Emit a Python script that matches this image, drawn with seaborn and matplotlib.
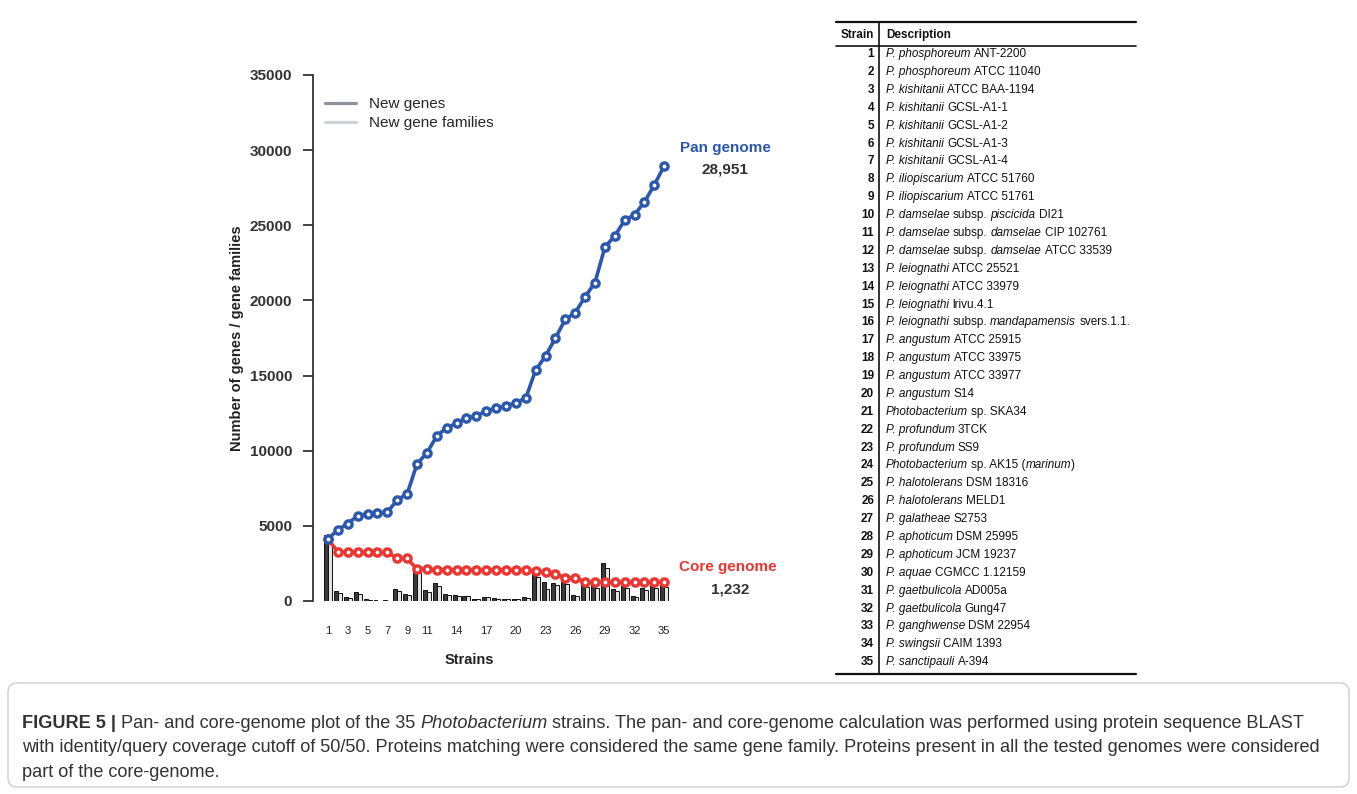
import numpy as np
import pandas as pd
import matplotlib
matplotlib.use("Agg")
import matplotlib.pyplot as plt
import seaborn as sns
from matplotlib.lines import Line2D
from matplotlib.patches import FancyBboxPatch
from matplotlib.transforms import IdentityTransform

# ---------------- data ----------------
strains = list(range(1, 36))
pan_genome = [4120, 4750, 5150, 5680, 5800, 5850, 5900, 6730, 7120, 9120,
              9850, 10980, 11530, 11820, 12180, 12330, 12640, 12840, 12970, 13200,
              13490, 15370, 16300, 17500, 18740, 19180, 20250, 21180, 23540, 24290,
              25330, 25700, 26550, 27680, 28951]
core_genome = [4120, 3260, 3250, 3250, 3240, 3240, 3230, 2840, 2830, 2120,
               2100, 2090, 2080, 2080, 2070, 2070, 2060, 2060, 2060, 2050,
               2050, 1990, 1900, 1800, 1540, 1550, 1260, 1250, 1250, 1245,
               1240, 1240, 1235, 1235, 1232]
new_genes = [4390, 690, 290, 580, 110, 40, 40, 780, 470, 2070,
             730, 1180, 470, 400, 360, 130, 290, 180, 140, 150,
             250, 1850, 1240, 1220, 1260, 400, 1070, 1070, 2510, 780,
             1020, 350, 840, 1000, 1070]
new_families = [4120, 560, 230, 470, 90, 30, 30, 650, 390, 1850,
                620, 1000, 390, 330, 300, 110, 240, 150, 110, 120,
                200, 1580, 820, 1050, 1100, 330, 900, 880, 2200, 640,
                840, 260, 710, 850, 930]
xtick_labels = [1, 3, 5, 7, 9, 11, 14, 17, 20, 23, 26, 29, 32, 35]
ytick_values = [0, 5000, 10000, 15000, 20000, 25000, 30000, 35000]
legend_labels = ["New genes", "New gene families"]
table_descriptions = [
    "*P. phosphoreum* ANT-2200",
    "*P. phosphoreum* ATCC 11040",
    "*P. kishitanii* ATCC BAA-1194",
    "*P. kishitanii* GCSL-A1-1",
    "*P. kishitanii* GCSL-A1-2",
    "*P. kishitanii* GCSL-A1-3",
    "*P. kishitanii* GCSL-A1-4",
    "*P. iliopiscarium* ATCC 51760",
    "*P. iliopiscarium* ATCC 51761",
    "*P. damselae* subsp. *piscicida* DI21",
    "*P. damselae* subsp. *damselae* CIP 102761",
    "*P. damselae* subsp. *damselae* ATCC 33539",
    "*P. leiognathi* ATCC 25521",
    "*P. leiognathi* ATCC 33979",
    "*P. leiognathi* lrivu.4.1",
    "*P. leiognathi* subsp. *mandapamensis* svers.1.1.",
    "*P. angustum* ATCC 25915",
    "*P. angustum* ATCC 33975",
    "*P. angustum* ATCC 33977",
    "*P. angustum* S14",
    "*Photobacterium* sp. SKA34",
    "*P. profundum* 3TCK",
    "*P. profundum* SS9",
    "*Photobacterium* sp. AK15 (*marinum*)",
    "*P. halotolerans* DSM 18316",
    "*P. halotolerans* MELD1",
    "*P. galatheae* S2753",
    "*P. aphoticum* DSM 25995",
    "*P. aphoticum* JCM 19237",
    "*P. aquae* CGMCC 1.12159",
    "*P. gaetbulicola* AD005a",
    "*P. gaetbulicola* Gung47",
    "*P. ganghwense* DSM 22954",
    "*P. swingsii* CAIM 1393",
    "*P. sanctipauli* A-394",
]
caption_lines = [
    "^FIGURE 5 |^ Pan- and core-genome plot of the 35 *Photobacterium* strains. The pan- and core-genome calculation was performed using protein sequence BLAST",
    "with identity/query coverage cutoff of 50/50. Proteins matching were considered the same gene family. Proteins present in all the tested genomes were considered",
    "part of the core-genome.",
]

BLUE = "#2b57ad"
RED = "#ec3530"
DARK = "#333333"

# ---------------- figure ----------------
W, H = 1357, 794
sns.set_style("ticks")
plt.rcParams["font.family"] = ["Liberation Sans", "DejaVu Sans"]

fig = plt.figure(figsize=(W / 100, H / 100), dpi=100)
T = IdentityTransform()

ax = fig.add_axes([313 / W, 1 - 601 / H, (680 - 313) / W, (601 - 75) / H])

bars = pd.DataFrame({
    "Strain": strains + strains,
    "Count": new_genes + new_families,
    "Type": [legend_labels[0]] * len(strains) + [legend_labels[1]] * len(strains),
})
sns.barplot(data=bars, x="Strain", y="Count", hue="Type", hue_order=legend_labels,
            palette={legend_labels[0]: "#3a3a3a", legend_labels[1]: "#e4e4e4"},
            native_scale=True, width=0.8, dodge=True, errorbar=None,
            edgecolor="#111111", linewidth=0.7, legend=False, ax=ax, zorder=1)

sns.lineplot(x=strains, y=core_genome, color=RED, marker="o", markersize=5.2,
             markerfacecolor="white", markeredgecolor=RED, markeredgewidth=2.4,
             linewidth=2.6, ax=ax, zorder=4)
sns.lineplot(x=strains, y=pan_genome, color=BLUE, marker="o", markersize=5.2,
             markerfacecolor="white", markeredgecolor=BLUE, markeredgewidth=2.4,
             linewidth=2.6, ax=ax, zorder=5)

ax.set_xlim(-0.52, 36.6)
ax.set_ylim(0, 35000)
ax.set_xticks(xtick_labels)
ax.set_xticklabels([str(v) for v in xtick_labels], fontsize=8, color="#222222")
ax.set_yticks(ytick_values)
ax.set_yticklabels([str(v) for v in ytick_values], fontsize=11, fontweight="bold", color=DARK)
ax.tick_params(axis="x", length=0, pad=18)
ax.tick_params(axis="y", length=7, width=1.3, color=DARK, pad=8, direction="out")
for s in ["top", "right", "bottom"]:
    ax.spines[s].set_visible(False)
ax.spines["left"].set_linewidth(1.3)
ax.spines["left"].set_color(DARK)
ax.set_facecolor("none")

ax.set_xlabel("Strains", fontsize=10.5, fontweight="bold", color="#222222")
ax.set_ylabel("Number of genes / gene families", fontsize=10.5, fontweight="bold", color="#222222")
ax.xaxis.set_label_coords((469 - 313) / 367, (601 - 653) / 526)
ax.yaxis.set_label_coords((244 - 313) / 367, 0.5)

handles = [Line2D([0], [0], color="#8e939b", lw=2.3),
           Line2D([0], [0], color="#cfd2d6", lw=2.3)]
fig.legend(handles, legend_labels, loc="upper left",
           bbox_to_anchor=(325 / W, 1 - 97 / H), frameon=False, fontsize=11,
           handlelength=2.0, handletextpad=0.9, labelspacing=0.32,
           borderpad=0, borderaxespad=0)

fig.text(725, H - 148, "Pan genome", transform=T, ha="center", va="center",
         fontsize=11, fontweight="bold", color=BLUE)
fig.text(725, H - 169, "28,951", transform=T, ha="center", va="center",
         fontsize=11, fontweight="bold", color=DARK)
fig.text(728, H - 567, "Core genome", transform=T, ha="center", va="center",
         fontsize=11, fontweight="bold", color=RED)
fig.text(730, H - 590, "1,232", transform=T, ha="center", va="center",
         fontsize=11, fontweight="bold", color=DARK)

# ---------------- rich text helper ----------------
renderer = fig.canvas.get_renderer()


def _parse(markup):
    segs, cur, it, bd = [], "", False, False
    for ch in markup:
        if ch in "*^":
            if cur:
                segs.append((cur, it, bd))
            cur = ""
            if ch == "*":
                it = not it
            else:
                bd = not bd
        else:
            cur += ch
    if cur:
        segs.append((cur, it, bd))
    return segs


def _width(s, **kw):
    t = fig.text(0, 0, s, transform=T, **kw)
    w = t.get_window_extent(renderer).width
    t.remove()
    return w


def _advance(s, **kw):
    # advance width of s measured between two bars
    return _width("|" + s + "|", **kw) - _width("||", **kw)


def rich(px, py, markup, size, color):
    x = px
    for s, it, bd in _parse(markup):
        kw = dict(fontsize=size, fontstyle="italic" if it else "normal",
                  fontweight="bold" if bd else "normal", family="Liberation Sans")
        lead = len(s) - len(s.lstrip(" "))
        core = s.strip(" ")
        if core:
            xs = x + (_advance(" " * lead, **kw) if lead else 0)
            fig.text(xs, H - py, core, transform=T, color=color,
                     va="baseline", ha="left", **kw)
        x += _advance(s, **kw)
    return x


# ---------------- table ----------------
TS = 8.5
fig.add_artist(Line2D([836, 1136], [H - 22, H - 22], color="#111111", lw=1.6, transform=T))
fig.add_artist(Line2D([836, 1136], [H - 46, H - 46], color="#111111", lw=1.2, transform=T))
fig.add_artist(Line2D([836, 1136], [H - 674, H - 674], color="#111111", lw=1.6, transform=T))
fig.add_artist(Line2D([879, 879], [H - 22, H - 674], color="#111111", lw=1.2, transform=T))
fig.text(874, H - 38, "Strain", transform=T, ha="right", va="baseline",
         fontsize=TS, fontweight="bold", color="#111111")
fig.text(886, H - 38, "Description", transform=T, ha="left", va="baseline",
         fontsize=TS, fontweight="bold", color="#111111")
for i, desc in enumerate(table_descriptions):
    yc = 53 + i * (661 - 53) / 34
    fig.text(874, H - (yc + 4.2), str(strains[i]), transform=T, ha="right",
             va="baseline", fontsize=TS, fontweight="bold", color="#111111")
    rich(886, yc + 4.2, desc, TS, "#111111")

# ---------------- caption ----------------
box = FancyBboxPatch((8, H - 787), 1341, 104, boxstyle="round,pad=0,rounding_size=9",
                     transform=T, fc="none", ec="#cfcfcf", lw=1.0)
fig.add_artist(box)
for i, line in enumerate(caption_lines):
    rich(22, 727.5 + i * 24.7, line, 13.05, "#333333")

fig.savefig("out.png", dpi=100)
